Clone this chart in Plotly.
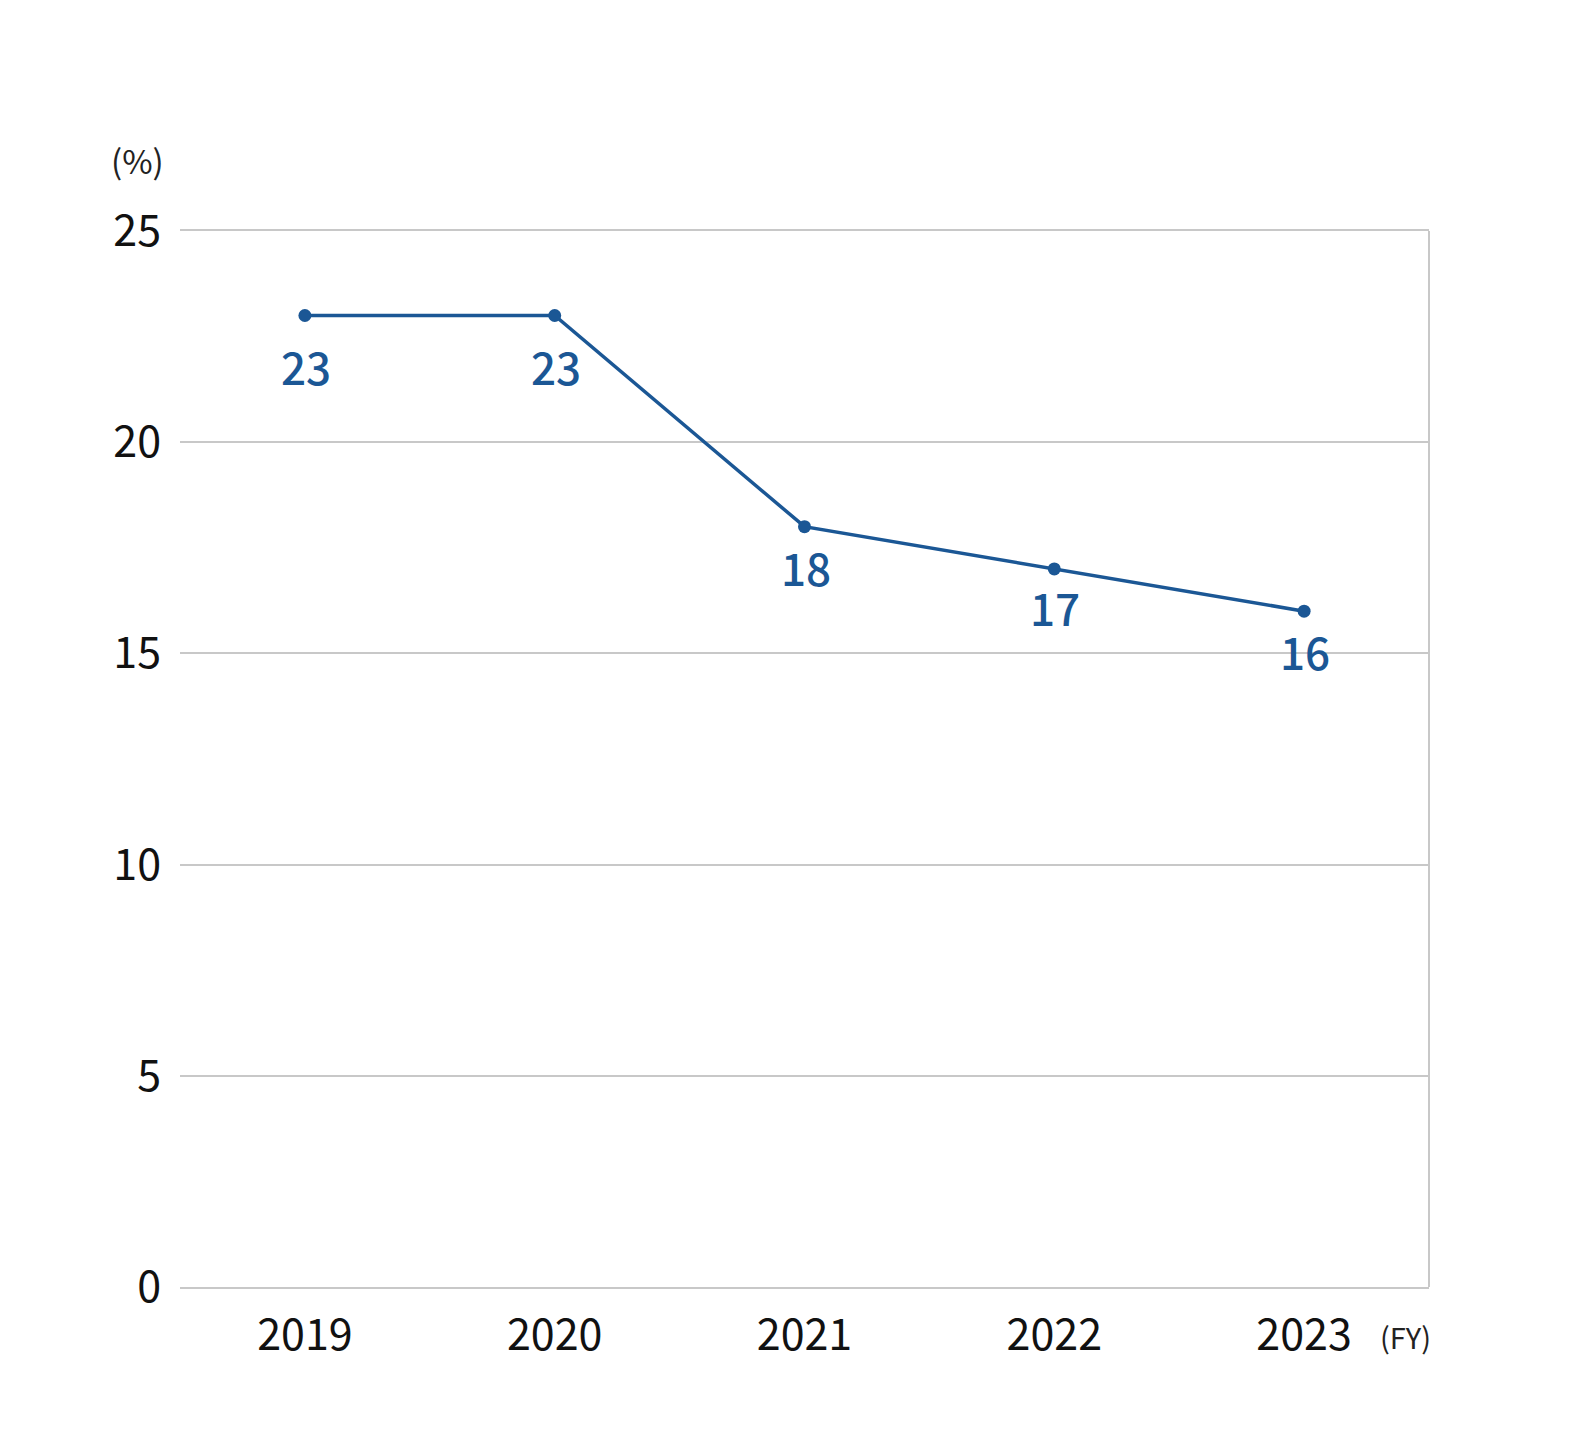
import plotly.graph_objects as go

years = ["2019", "2020", "2021", "2022", "2023"]
values = [23, 23, 18, 17, 16]
y_ticks = [0, 5, 10, 15, 20, 25]

# vertical offsets (px) of each value label below its point
label_yshift = [-51, -51, -40, -38, -40]

line_color = "#1b5795"
grid_color = "#c8c8c8"
font_family = "Noto Sans CJK JP"

fig = go.Figure()
fig.add_trace(go.Scatter(
    x=years, y=values, mode="lines+markers",
    line=dict(color=line_color, width=3.5),
    marker=dict(color=line_color, size=13),
    hoverinfo="skip", cliponaxis=False,
))

for i, (v, ys) in enumerate(zip(values, label_yshift)):
    fig.add_annotation(x=i, y=v, text=str(v), showarrow=False,
                       yshift=ys, xshift=1,
                       font=dict(family=font_family, size=44, color=line_color,
                                 weight=500))

fig.add_annotation(xref="paper", yref="paper", x=-0.0344, y=1.067,
                   xanchor="center", yanchor="middle", text="(%)", showarrow=False,
                   font=dict(family=font_family, size=33, color="#222222"))
fig.add_annotation(xref="paper", yref="paper", x=1.003, y=-0.046,
                   xanchor="right", yanchor="middle", text="(FY)", showarrow=False,
                   font=dict(family=font_family, size=29, color="#222222"))

fig.update_layout(
    width=1590, height=1440,
    margin=dict(l=172, r=169, t=223, b=161),
    plot_bgcolor="white", paper_bgcolor="white",
    showlegend=False,
    font=dict(family=font_family, size=43, color="#111111"),
)
fig.update_xaxes(
    type="category", range=[-0.5, 4.5],
    showgrid=False, zeroline=False,
    showline=True, mirror=True, linecolor=grid_color, linewidth=2,
    ticks="", ticklabelstandoff=9,
    tickfont=dict(family=font_family, size=43, color="#111111"),
)
fig.update_yaxes(
    range=[0, 25], tickvals=y_ticks, ticktext=[str(t) for t in y_ticks],
    showgrid=True, gridcolor=grid_color, gridwidth=2,
    zeroline=False, showline=False, ticks="", ticklabelstandoff=18,
    tickfont=dict(family=font_family, size=43, color="#111111"),
)
# right border
fig.add_shape(type="line", xref="paper", yref="paper", x0=1, x1=1, y0=0, y1=1,
              line=dict(color=grid_color, width=2), layer="below")

fig.write_html("out.html")
